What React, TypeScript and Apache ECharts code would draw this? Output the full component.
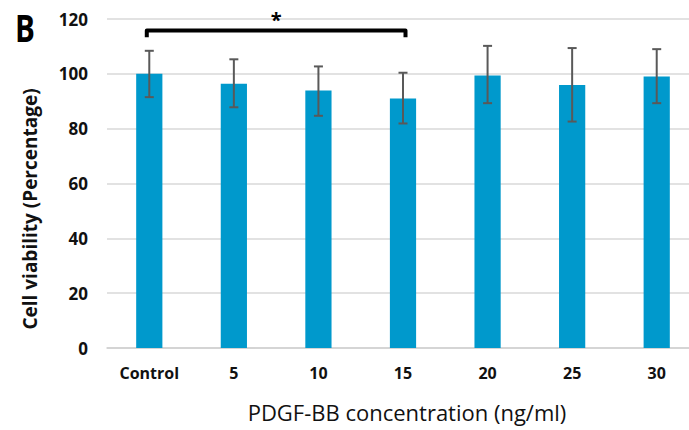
import React, { useEffect, useRef } from "react";
import * as echarts from "echarts";

const categories = ["Control", "5", "10", "15", "20", "25", "30"];
const viability = [100, 96.4, 93.9, 91.0, 99.4, 95.9, 99.0];
const errUpper = [108.4, 105.3, 102.7, 100.4, 110.2, 109.4, 109.0];
const errLower = [91.5, 87.8, 84.7, 81.9, 89.3, 82.6, 89.3];
const yTicks = [0, 20, 40, 60, 80, 100, 120];
// significance bracket: from category index, to category index, level, leg bottom
const bracket = [[0, 3, 116.5, 113.3]];
const FONT = "'Open Sans', 'Liberation Sans', sans-serif";

export default function App() {
  const ref = useRef<HTMLDivElement>(null);
  useEffect(() => {
    if (!ref.current) return;
    const chart = echarts.init(ref.current, null, { renderer: "svg" });
    chart.setOption({
      animation: false,
      backgroundColor: "#ffffff",
      grid: { left: 107, width: 592, top: 19, height: 329, outerBoundsMode: "none" },
      xAxis: {
        type: "category",
        data: categories,
        axisTick: { show: false },
        axisLine: { lineStyle: { color: "#d0d0d0", width: 1.5 } },
        axisLabel: {
          margin: 17,
          fontFamily: FONT,
          fontWeight: "bold",
          fontSize: 16,
          color: "#111",
        },
      },
      yAxis: {
        type: "value",
        min: yTicks[0],
        max: yTicks[yTicks.length - 1],
        interval: 20,
        axisLine: { show: false },
        axisTick: { show: false },
        splitLine: { lineStyle: { color: "#d9d9d9", width: 1.5 } },
        axisLabel: {
          margin: 19,
          fontFamily: FONT,
          fontWeight: "bold",
          fontSize: 17,
          color: "#111",
        },
      },
      graphic: [
        {
          type: "text",
          x: 15,
          y: 28,
          scaleX: 0.8,
          style: {
            text: "B",
            font: `bold 37px ${FONT}`,
            fill: "#000",
            textVerticalAlign: "middle",
          },
        },
        {
          type: "text",
          x: 30,
          y: 209,
          rotation: Math.PI / 2,
          style: {
            text: "Cell viability (Percentage)",
            font: `bold 19px ${FONT}`,
            fill: "#111",
            textAlign: "center",
            textVerticalAlign: "middle",
          },
        },
        {
          type: "text",
          x: 407,
          y: 412,
          style: {
            text: "PDGF-BB concentration (ng/ml)",
            font: `22px ${FONT}`,
            fill: "#111",
            textAlign: "center",
            textVerticalAlign: "middle",
          },
        },
      ],
      series: [
        {
          type: "bar",
          data: viability,
          barWidth: "31%",
          itemStyle: { color: "#0099cc" },
        },
        {
          type: "custom",
          data: categories.map((_, i) => [i, errLower[i], errUpper[i]]),
          renderItem: (params: any, api: any) => {
            const i = api.value(0);
            const lo = api.coord([i, api.value(1)]);
            const hi = api.coord([i, api.value(2)]);
            const hw = 4.5;
            const style = { stroke: "#595959", lineWidth: 2 };
            return {
              type: "group",
              children: [
                { type: "line", shape: { x1: lo[0], y1: lo[1], x2: hi[0], y2: hi[1] }, style },
                { type: "line", shape: { x1: hi[0] - hw, y1: hi[1], x2: hi[0] + hw, y2: hi[1] }, style },
                { type: "line", shape: { x1: lo[0] - hw, y1: lo[1], x2: lo[0] + hw, y2: lo[1] }, style },
              ],
            };
          },
          z: 5,
        },
        {
          type: "custom",
          data: bracket,
          clip: false,
          renderItem: (params: any, api: any) => {
            const a = api.coord([api.value(0), api.value(2)]);
            const b = api.coord([api.value(1), api.value(2)]);
            const leg = api.coord([api.value(0), api.value(3)]);
            return {
              type: "group",
              children: [
                {
                  type: "polyline",
                  shape: {
                    points: [
                      [a[0] - 2.5, leg[1]],
                      [a[0] - 2.5, a[1] + 2],
                      [b[0] + 2.5, b[1] + 2],
                      [b[0] + 2.5, leg[1]],
                    ],
                  },
                  style: { stroke: "#000", lineWidth: 4, fill: null, lineJoin: "round" },
                },
                {
                  type: "text",
                  x: (a[0] + b[0]) / 2,
                  y: a[1] - 9,
                  style: {
                    text: "*",
                    font: `bold 20px ${FONT}`,
                    fill: "#000",
                    textAlign: "center",
                    textVerticalAlign: "middle",
                  },
                },
              ],
            };
          },
          z: 6,
        },
      ],
    });
    return () => chart.dispose();
  }, []);
  return (
    <div
      ref={ref}
      style={{ position: "fixed", left: 0, top: 0, width: 689, height: 430, background: "#fff" }}
    />
  );
}
